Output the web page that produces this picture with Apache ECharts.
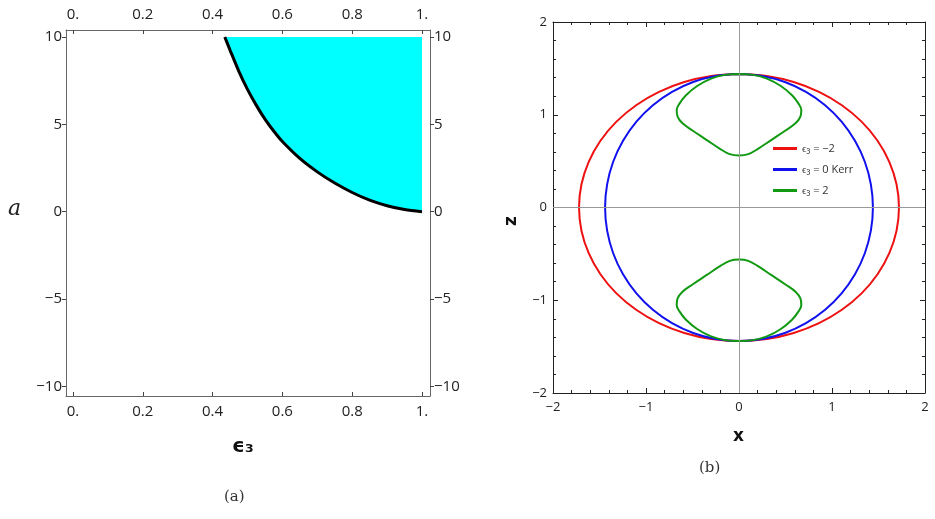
<!DOCTYPE html>
<html><head><meta charset="utf-8">
<script src="https://cdn.jsdelivr.net/npm/echarts@6/dist/echarts.min.js"></script>
<style>html,body{margin:0;padding:0;background:#fff}#c{width:935px;height:519px}</style>
</head><body><div id="c"></div>
<script>
// Panel (a): boundary curve a(eps3)
const boundaryCurve = [[0.435,10],[0.45,9.25],[0.475,8.05],[0.5,7.0],[0.525,6.1],[0.55,5.3],[0.575,4.62],[0.6,4.02],[0.65,3.05],[0.7,2.28],[0.75,1.64],[0.8,1.1],[0.85,0.66],[0.9,0.34],[0.95,0.12],[1.0,0]];
const regionTop = [[1.0,10],[0.435,10]];
const ticksA_x = [0,0.2,0.4,0.6,0.8,1];
const ticksA_y = [-10,-5,0,5,10];
// Panel (b): one quadrant / half of each curve (symmetric shapes)
const redQuadrant = [[0,1.44],[0.299,1.418],[0.588,1.353],[0.86,1.247],[1.106,1.103],[1.318,0.926],[1.49,0.72],[1.616,0.493],[1.694,0.25],[1.72,0]];
const blueQuadrant = [[0,1.44],[0.25,1.418],[0.493,1.353],[0.72,1.247],[0.926,1.103],[1.103,0.926],[1.247,0.72],[1.353,0.493],[1.418,0.25],[1.44,0]];
const greenHalfLobe = [[0,1.44],[0.15,1.43],[0.3,1.39],[0.45,1.31],[0.57,1.21],[0.64,1.12],[0.67,1.05],[0.66,0.98],[0.61,0.91],[0.5,0.83],[0.35,0.73],[0.2,0.63],[0.1,0.575],[0,0.56]];
const legendNames = ['ϵ₃ = −2','ϵ₃ = 0 Kerr','ϵ₃ = 2'];

function fullLoop(q){ // mirror a quadrant into a closed curve
  const a=q.slice();
  const b=q.slice().reverse().map(p=>[p[0],-p[1]]);
  const c=q.map(p=>[-p[0],-p[1]]);
  const d=q.slice().reverse().map(p=>[-p[0],p[1]]);
  return a.concat(b.slice(1),c.slice(1),d.slice(1));
}
function lobe(h,s){ const r=h.map(p=>[p[0],s*p[1]]); const l=h.slice().reverse().map(p=>[-p[0],s*p[1]]); return r.concat(l.slice(1)); }
const greenData = lobe(greenHalfLobe,1).concat([null], lobe(greenHalfLobe,-1));

const fmtA = v => (v===0?'0.':v===1?'1.':String(v));
const fmtNum = v => String(v).replace('-','−');
const lab = {color:'#222',fontSize:15,fontFamily:'Open Sans'};
const labB = {color:'#222',fontSize:13,fontFamily:'Open Sans'};
function xa(gi,pos){return {type:'value',gridIndex:gi,position:pos,min:-0.02,max:1.023,
  axisLine:{show:true,onZero:false,lineStyle:{color:'#666'}},splitLine:{show:false},
  axisTick:{show:true,inside:true,length:4,customValues:ticksA_x,lineStyle:{color:'#444'}},
  axisLabel:Object.assign({show:true,customValues:ticksA_x,formatter:fmtA,margin:8},lab)};}
function ya(gi,pos){return {type:'value',gridIndex:gi,position:pos,min:-10.55,max:10.4,
  axisLine:{show:true,onZero:false,lineStyle:{color:'#666'}},splitLine:{show:false},
  axisTick:{show:true,inside:false,length:4,customValues:ticksA_y,lineStyle:{color:'#444'}},
  axisLabel:Object.assign({show:true,customValues:ticksA_y,formatter:fmtNum,margin:4},lab)};}
function xb(pos,show){return {type:'value',gridIndex:1,position:pos,min:-2,max:2,interval:1,
  axisLine:{show:true,onZero:false,lineStyle:{color:'#222'}},splitLine:{show:false},
  axisTick:{show:true,inside:true,length:5,lineStyle:{color:'#222'}},
  minorTick:{show:true,splitNumber:5,length:3,lineStyle:{color:'#222'}},
  axisLabel:Object.assign({show:show,formatter:fmtNum},labB)};}
function yb(pos,show){return {type:'value',gridIndex:1,position:pos,min:-2,max:2,interval:1,
  axisLine:{show:true,onZero:false,lineStyle:{color:'#222'}},splitLine:{show:false},
  axisTick:{show:true,inside:true,length:5,lineStyle:{color:'#222'}},
  minorTick:{show:true,splitNumber:5,length:3,lineStyle:{color:'#222'}},
  axisLabel:Object.assign({show:show,formatter:fmtNum,margin:6},labB)};}

const chart = echarts.init(document.getElementById('c'));
chart.setOption({
  animation:false,
  grid:[{left:66,top:30,width:364,height:366},{left:553,top:22,width:372,height:371}],
  xAxis:[xa(0,'bottom'),xa(0,'top'),xb('bottom',true),xb('top',false)],
  yAxis:[ya(0,'left'),ya(0,'right'),yb('left',true),yb('right',false)],
  legend:{data:legendNames,orient:'vertical',left:768,top:138,itemWidth:24,itemHeight:3,itemGap:10,
    icon:'rect',textStyle:{fontSize:11,color:'#333',fontFamily:'Open Sans'}},
  graphic:[
    {type:'text',left:8,top:198,style:{text:'a',font:'italic 22px "DejaVu Serif"',fill:'#222'}},
    {type:'text',left:232,top:437,style:{text:'ϵ₃',font:'bold 20px "DejaVu Sans"',fill:'#111'}},
    {type:'text',left:224,top:490,style:{text:'(a)',font:'15px "DejaVu Serif"',fill:'#333'}},
    {type:'text',left:733,top:428,style:{text:'x',font:'bold 17px "DejaVu Sans"',fill:'#111'}},
    {type:'text',left:503,top:216,rotation:Math.PI/2,style:{text:'z',font:'bold 17px "DejaVu Sans"',fill:'#111'}},
    {type:'text',left:699,top:461,style:{text:'(b)',font:'15px "DejaVu Serif"',fill:'#333'}}
  ],
  series:[
    {type:'custom',xAxisIndex:0,yAxisIndex:0,silent:true,
      data:[0],
      renderItem:(params,api)=>({type:'polygon',shape:{points:boundaryCurve.concat(regionTop).map(p=>api.coord(p)),smooth:0},style:{fill:'#00ffff'}})},
    {type:'line',xAxisIndex:0,yAxisIndex:0,data:boundaryCurve,smooth:0.3,symbol:'none',lineStyle:{color:'#000',width:3}},
    {type:'line',xAxisIndex:2,yAxisIndex:2,data:[],symbol:'none',silent:true,
      markLine:{silent:true,symbol:'none',label:{show:false},lineStyle:{color:'#999',width:1,type:'solid'},data:[{xAxis:0},{yAxis:0}]}},
    {name:legendNames[0],type:'line',xAxisIndex:2,yAxisIndex:2,data:fullLoop(redQuadrant),smooth:0.4,symbol:'none',color:'#ee1111',lineStyle:{width:2}},
    {name:legendNames[1],type:'line',xAxisIndex:2,yAxisIndex:2,data:fullLoop(blueQuadrant),smooth:0.4,symbol:'none',color:'#1111ee',lineStyle:{width:2}},
    {name:legendNames[2],type:'line',xAxisIndex:2,yAxisIndex:2,data:greenData,smooth:0.4,connectNulls:false,symbol:'none',color:'#119911',lineStyle:{width:2}}
  ]
});
</script></body></html>
